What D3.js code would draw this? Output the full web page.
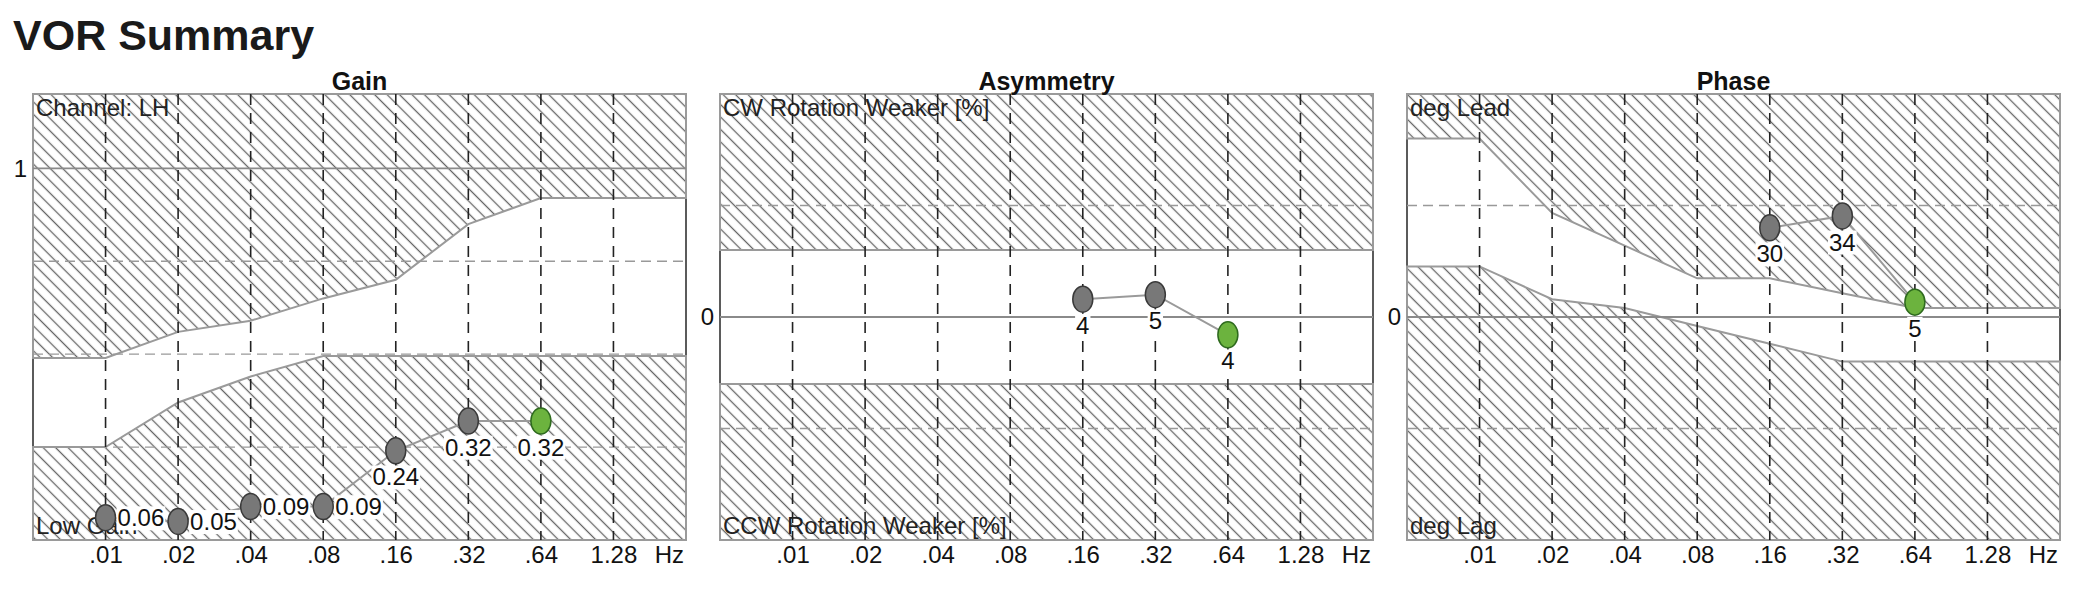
<!DOCTYPE html>
<html lang="en">
<head>
<meta charset="UTF-8" />
<title>VOR Summary</title>
<style>
  body { margin: 0; background: #fff; }
  svg { display: block; }
</style>
</head>
<body>
<div id="chart"></div>
<script src="https://d3js.org/d3.v7.min.js"></script>
<script>
// x axis: test frequencies (Hz)
const freqTicks = [0.01, 0.02, 0.04, 0.08, 0.16, 0.32, 0.64, 1.28];
const freqTickLabels = [".01", ".02", ".04", ".08", ".16", ".32", ".64", "1.28"];
// frequencies where the normal range boundaries are given (edge to edge)
const normFreqs = [0.005, 0.01, 0.02, 0.04, 0.08, 0.16, 0.32, 0.64, 1.28, 2.56];
const currentFreq = 0.64; // latest test, drawn green

// Gain
const gainFreqs = [0.01, 0.02, 0.04, 0.08, 0.16, 0.32, 0.64];
const gainValues = [0.06, 0.05, 0.09, 0.09, 0.24, 0.32, 0.32];
const gainNormLow = [0.25, 0.25, 0.37, 0.44, 0.495, 0.495, 0.495, 0.495, 0.495, 0.495];
const gainNormHigh = [0.49, 0.49, 0.56, 0.59, 0.65, 0.70, 0.85, 0.92, 0.92, 0.92];
const gainGrid = [0.25, 0.5, 0.75];
const gainTicks = [1];

// Asymmetry (%)
const asymFreqs = [0.16, 0.32, 0.64];
const asymValues = [4, 5, -4];
const asymNormLow = [-15, -15, -15, -15, -15, -15, -15, -15, -15, -15];
const asymNormHigh = [15, 15, 15, 15, 15, 15, 15, 15, 15, 15];
const asymGrid = [-25, 25];
const asymTicks = [0];

// Phase (deg)
const phaseFreqs = [0.16, 0.32, 0.64];
const phaseValues = [30, 34, 5];
const phaseNormLow = [17, 17, 6, 3, -3, -9, -15, -15, -15, -15];
const phaseNormHigh = [60, 60, 35, 24, 13, 13, 8, 3, 3, 3];
const phaseGrid = [-37.5, 37.5];
const phaseTicks = [0];

const FONT = '"Liberation Sans", Arial, sans-serif';
const width = 2096, height = 604;
const plotTop = 94, plotBottom = 540, panelW = 653;

const panels = [
  { title: "Gain", left: 33, freqs: gainFreqs, values: gainValues,
    low: gainNormLow, high: gainNormHigh, domain: [0, 1.2], grid: gainGrid,
    ticks: gainTicks, solid: 1, topText: "Channel: LH", bottomText: "Low Gain",
    fmt: d3.format(".2f") },
  { title: "Asymmetry", left: 720, freqs: asymFreqs, values: asymValues,
    low: asymNormLow, high: asymNormHigh, domain: [-50, 50], grid: asymGrid,
    ticks: asymTicks, solid: 0, topText: "CW Rotation Weaker [%]",
    bottomText: "CCW Rotation Weaker [%]", fmt: d => Math.abs(d) },
  { title: "Phase", left: 1407, freqs: phaseFreqs, values: phaseValues,
    low: phaseNormLow, high: phaseNormHigh, domain: [-75, 75], grid: phaseGrid,
    ticks: phaseTicks, solid: 0, topText: "deg Lead", bottomText: "deg Lag",
    fmt: d => d }
];

const svg = d3.select("#chart").append("svg")
    .attr("width", width)
    .attr("height", height)
    .attr("viewBox", [0, 0, width, height])
    .style("font-family", FONT);

svg.append("rect").attr("width", width).attr("height", height).attr("fill", "#fff");

svg.append("defs").append("pattern")
    .attr("id", "hatch")
    .attr("patternUnits", "userSpaceOnUse")
    .attr("width", 8.8)
    .attr("height", 10)
    .attr("patternTransform", "rotate(-45)")
  .append("line")
    .attr("x1", 4.4).attr("x2", 4.4)
    .attr("y1", -1).attr("y2", 11)
    .attr("stroke", "#666")
    .attr("stroke-width", 1.3);

svg.append("text")
    .attr("x", 13)
    .attr("y", 50)
    .attr("font-size", 43)
    .attr("font-weight", "bold")
    .attr("fill", "#1a1a1a")
    .text("VOR Summary");

panels.forEach(p => {
  const right = p.left + panelW;
  const x = d3.scaleLog().base(2).domain([0.005, 2.56]).range([p.left, right]);
  const y = d3.scaleLinear().domain(p.domain).range([plotBottom, plotTop]);
  const g = svg.append("g");

  // frame
  g.append("rect")
      .attr("x", p.left).attr("y", plotTop)
      .attr("width", panelW).attr("height", plotBottom - plotTop)
      .attr("fill", "#fff")
      .attr("stroke", "#333")
      .attr("stroke-width", 1.6);

  // hatched areas outside the normal range
  const rows = normFreqs.map((f, i) => ({ f, lo: p.low[i], hi: p.high[i] }));
  g.append("path")
      .datum(rows)
      .attr("d", d3.area().x(d => x(d.f)).y0(y(p.domain[1])).y1(d => y(d.hi)))
      .attr("fill", "url(#hatch)")
      .attr("stroke", "#9a9a9a")
      .attr("stroke-width", 2);
  g.append("path")
      .datum(rows)
      .attr("d", d3.area().x(d => x(d.f)).y0(y(p.domain[0])).y1(d => y(d.lo)))
      .attr("fill", "url(#hatch)")
      .attr("stroke", "#9a9a9a")
      .attr("stroke-width", 2);

  // horizontal grid
  g.append("g").selectAll("line")
    .data(p.grid)
    .join("line")
      .attr("x1", p.left).attr("x2", right)
      .attr("y1", d => y(d)).attr("y2", d => y(d))
      .attr("stroke", "#999")
      .attr("stroke-width", 1.4)
      .attr("stroke-dasharray", "10,6");
  g.append("line")
      .attr("x1", p.left).attr("x2", right)
      .attr("y1", y(p.solid)).attr("y2", y(p.solid))
      .attr("stroke", "#8a8a8a")
      .attr("stroke-width", 1.8);

  // vertical grid
  g.append("g").selectAll("line")
    .data(freqTicks)
    .join("line")
      .attr("x1", d => x(d)).attr("x2", d => x(d))
      .attr("y1", plotTop).attr("y2", plotBottom)
      .attr("stroke", "#222")
      .attr("stroke-width", 1.6)
      .attr("stroke-dasharray", "11,8");

  // axes
  g.append("g")
      .attr("transform", `translate(0,${plotBottom})`)
      .call(d3.axisBottom(x).tickValues(freqTicks)
        .tickFormat((d, i) => freqTickLabels[i]).tickSize(0).tickPadding(6))
      .attr("font-family", FONT)
      .attr("font-size", 24)
      .call(a => a.select(".domain").remove())
      .call(a => a.selectAll("text").attr("fill", "#111"));
  g.append("text")
      .attr("x", right - 2)
      .attr("y", plotBottom + 23)
      .attr("text-anchor", "end")
      .attr("font-size", 24)
      .attr("fill", "#111")
      .text("Hz");
  g.append("g")
      .attr("transform", `translate(${p.left},0)`)
      .call(d3.axisLeft(y).tickValues(p.ticks).tickFormat(d => d).tickSize(0).tickPadding(6))
      .attr("font-family", FONT)
      .attr("font-size", 24)
      .call(a => a.select(".domain").remove())
      .call(a => a.selectAll("text").attr("fill", "#111"));

  // title and corner texts
  g.append("text")
      .attr("x", (p.left + right) / 2)
      .attr("y", 90)
      .attr("text-anchor", "middle")
      .attr("font-size", 25)
      .attr("font-weight", "bold")
      .attr("fill", "#111")
      .text(p.title);
  g.append("text")
      .attr("x", p.left + 3).attr("y", plotTop + 22)
      .attr("font-size", 24).attr("fill", "#222")
      .text(p.topText);
  g.append("text")
      .attr("x", p.left + 3).attr("y", plotBottom - 6)
      .attr("font-size", 24).attr("fill", "#222")
      .text(p.bottomText);

  // measured points
  const pts = p.freqs.map((f, i) => ({ f, v: p.values[i] }));
  g.append("path")
      .datum(pts)
      .attr("d", d3.line().x(d => x(d.f)).y(d => y(d.v)))
      .attr("fill", "none")
      .attr("stroke", "#9a9a9a")
      .attr("stroke-width", 2);
  g.append("g").selectAll("ellipse")
    .data(pts)
    .join("ellipse")
      .attr("cx", d => x(d.f))
      .attr("cy", d => y(d.v))
      .attr("rx", 10)
      .attr("ry", 13)
      .attr("fill", d => d.f === currentFreq ? "#6cb33e" : "#787878")
      .attr("stroke", d => d.f === currentFreq ? "#2e6a1e" : "#3a3a3a")
      .attr("stroke-width", 1.5);

  const labels = g.append("g");
  pts.forEach(d => {
    const cx = x(d.f), cy = y(d.v);
    const below = cy + 38 < plotBottom - 2;
    const t = labels.append("text")
        .attr("x", below ? cx : cx + 12)
        .attr("y", below ? cy + 26 : cy)
        .attr("dy", "0.36em")
        .attr("text-anchor", below ? "middle" : "start")
        .attr("font-size", 24)
        .attr("fill", "#111")
        .text(p.fmt(d.v));
    const b = t.node().getBBox();
    labels.insert("rect", () => t.node())
        .attr("x", b.x - 1).attr("y", b.y + 2)
        .attr("width", b.width + 2).attr("height", b.height - 3)
        .attr("fill", "#fff");
  });
});
</script>
</body>
</html>
